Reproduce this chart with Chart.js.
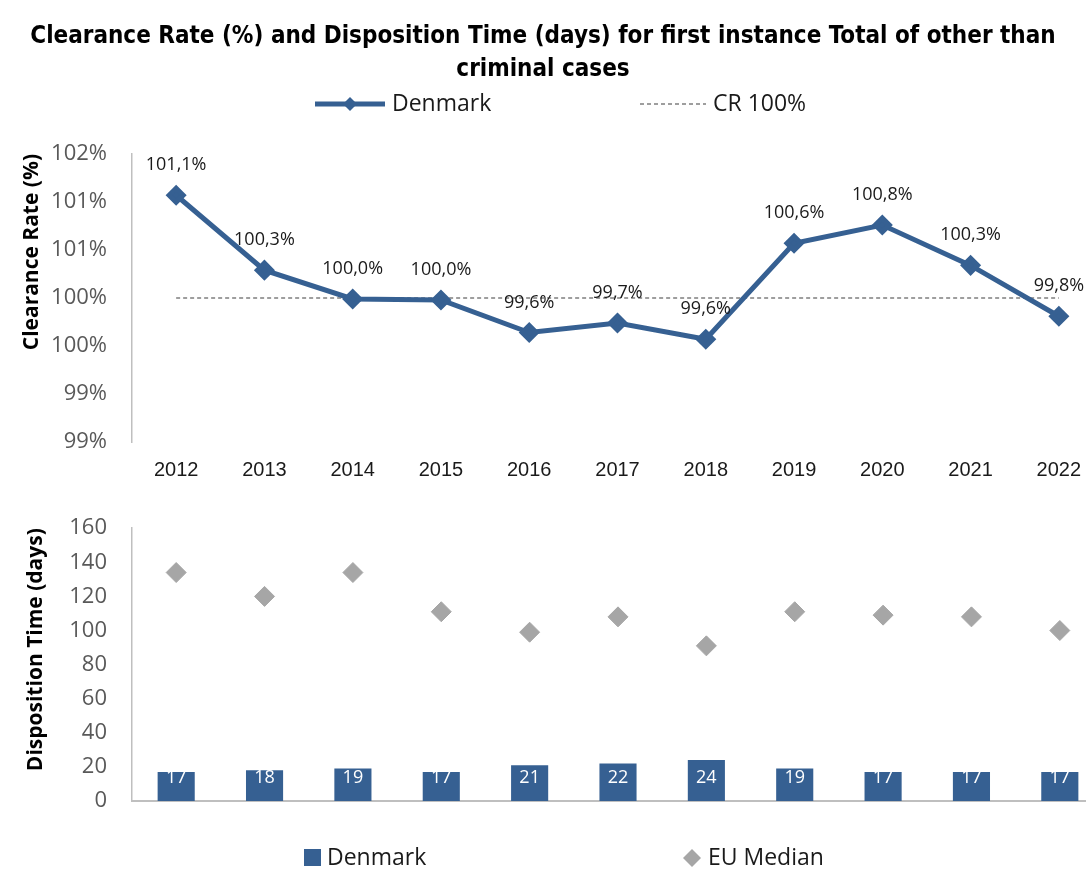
<!DOCTYPE html>
<html>
<head>
<meta charset="utf-8">
<script src="https://cdn.jsdelivr.net/npm/chart.js@4"></script>
<style>
body{margin:0;background:#fff;}
#wrap{position:relative;width:1086px;height:870px;overflow:hidden;background:#fff;}
#top{position:absolute;left:0;top:0;}
#bottom{position:absolute;left:0;top:490px;}
</style>
</head>
<body>
<div id="wrap">
  <canvas id="top" width="1115" height="506"></canvas>
  <canvas id="bottom" width="1115" height="380"></canvas>
</div>
<script>
const years = ['2012','2013','2014','2015','2016','2017','2018','2019','2020','2021','2022'];
const clearanceRate = [101.07, 100.29, 99.99, 99.98, 99.64, 99.74, 99.57, 100.57, 100.76, 100.34, 99.81];
const cr100 = [100, 100, 100, 100, 100, 100, 100, 100, 100, 100, 100];
const dtDenmark = [17, 18, 19, 17, 21, 22, 24, 19, 17, 17, 17];
const dtEuMedian = [134, 120, 134, 111, 99, 108, 91, 111, 109, 108, 100];
const titleLines = ['Clearance Rate (%) and Disposition Time (days) for first instance Total of other than', 'criminal cases'];

const blue = '#366092';
const grey = '#A6A6A6';
const axisGrey = '#BFBFBF';
const txt = "'Open Sans', 'DejaVu Sans', sans-serif";

// value labels above the line points
const lineLabels = {
  id: 'lineLabels',
  afterDatasetsDraw(chart) {
    const ctx = chart.ctx;
    const meta = chart.getDatasetMeta(0);
    ctx.save();
    ctx.font = '18px ' + txt;
    ctx.fillStyle = '#1a1a1a';
    ctx.textAlign = 'center';
    ctx.textBaseline = 'middle';
    meta.data.forEach((p, i) => {
      ctx.fillText(clearanceRate[i].toFixed(1).replace('.', ',') + '%', p.x, p.y - 30);
    });
    ctx.restore();
  }
};

// chart title + legend of the top panel
const topHeader = {
  id: 'topHeader',
  afterDraw(chart) {
    const ctx = chart.ctx;
    ctx.save();
    ctx.font = "bold 24px 'DejaVu Sans Condensed', 'Liberation Sans', sans-serif";
    ctx.fillStyle = '#000';
    ctx.textAlign = 'center';
    ctx.textBaseline = 'middle';
    ctx.fillText(titleLines[0], 543, 37);
    ctx.fillText(titleLines[1], 543, 70);

    const y = 104;
    ctx.textAlign = 'left';
    ctx.strokeStyle = blue;
    ctx.lineWidth = 5;
    ctx.beginPath(); ctx.moveTo(315, y); ctx.lineTo(385, y); ctx.stroke();
    ctx.fillStyle = blue;
    ctx.beginPath();
    ctx.moveTo(350, y - 7); ctx.lineTo(357, y); ctx.lineTo(350, y + 7); ctx.lineTo(343, y);
    ctx.closePath(); ctx.fill();
    ctx.strokeStyle = '#7f7f7f';
    ctx.lineWidth = 1.5;
    ctx.setLineDash([4, 3]);
    ctx.beginPath(); ctx.moveTo(640, y); ctx.lineTo(706, y); ctx.stroke();
    ctx.setLineDash([]);
    ctx.font = '23px ' + txt;
    ctx.fillStyle = '#1a1a1a';
    ctx.fillText('Denmark', 392, y);
    ctx.fillText('CR 100%', 713, y);
    ctx.restore();
  }
};

const barLabels = {
  id: 'barLabels',
  afterDatasetsDraw(chart) {
    const ctx = chart.ctx;
    const meta = chart.getDatasetMeta(1);
    ctx.save();
    ctx.font = '18px ' + txt;
    ctx.fillStyle = '#ffffff';
    ctx.textAlign = 'center';
    ctx.textBaseline = 'middle';
    meta.data.forEach((b, i) => {
      ctx.fillText(String(dtDenmark[i]), b.x, b.base - 23);
    });
    ctx.restore();
  }
};

const bottomLegend = {
  id: 'bottomLegend',
  afterDraw(chart) {
    const ctx = chart.ctx;
    const y = 368;
    ctx.save();
    ctx.fillStyle = blue;
    ctx.fillRect(304, y - 9, 17, 17);
    ctx.fillStyle = grey;
    ctx.beginPath();
    ctx.moveTo(692, y - 9); ctx.lineTo(701, y); ctx.lineTo(692, y + 9); ctx.lineTo(683, y);
    ctx.closePath(); ctx.fill();
    ctx.font = '23px ' + txt;
    ctx.fillStyle = '#1a1a1a';
    ctx.textBaseline = 'middle';
    ctx.fillText('Denmark', 327, y);
    ctx.fillText('EU Median', 708, y);
    ctx.restore();
  }
};

const tickFont = {family: txt, size: 22};
const axisTitleFont = {family: txt, size: 21, weight: 'bold'};

new Chart(document.getElementById('top'), {
  type: 'line',
  data: {
    labels: years,
    datasets: [
      {
        label: 'Denmark', data: clearanceRate,
        borderColor: blue, backgroundColor: blue, borderWidth: 5,
        pointStyle: 'rectRot', pointRadius: 7, pointBackgroundColor: blue, pointBorderColor: blue,
        tension: 0
      },
      {
        label: 'CR 100%', data: cr100,
        borderColor: '#7f7f7f', borderWidth: 1.5, borderDash: [4, 3], pointRadius: 0
      }
    ]
  },
  options: {
    responsive: false, animation: false, devicePixelRatio: 1,
    layout: {padding: {left: 0, right: 2, top: 154, bottom: 8}},
    plugins: {
      legend: {display: false},
      tooltip: {enabled: false},
      title: {display: false}
    },
    scales: {
      x: {
        offset: true,
        grid: {display: false, drawTicks: false},
        border: {display: false},
        ticks: {font: {family: "'Liberation Sans', Arial, sans-serif", size: 20}, color: '#1a1a1a', padding: 16}
      },
      y: {
        min: 98.5, max: 101.5,
        grid: {display: false, drawTicks: false},
        border: {display: true, color: axisGrey, width: 1.5},
        ticks: {stepSize: 0.5, font: tickFont, color: '#595959', padding: 25,
          callback: v => Math.round(v + 1e-9) + '%'},
        title: {display: true, text: 'Clearance Rate (%)', align: 'end', color: '#000', font: axisTitleFont, padding: {top: 19}},
        afterFit(s) { s.width = 132; }
      }
    }
  },
  plugins: [lineLabels, topHeader]
});

new Chart(document.getElementById('bottom'), {
  type: 'bar',
  data: {
    labels: years,
    datasets: [
      {
        type: 'line', label: 'EU Median', data: dtEuMedian, showLine: false,
        pointStyle: 'rectRot', pointRadius: 10, pointBackgroundColor: grey, pointBorderColor: grey, order: 0
      },
      {
        label: 'Denmark', data: dtDenmark, backgroundColor: blue,
        barPercentage: 0.42, categoryPercentage: 1, order: 1
      }
    ]
  },
  options: {
    responsive: false, animation: false, devicePixelRatio: 1,
    layout: {padding: {left: 0, right: 2, top: 37, bottom: 69}},
    plugins: {legend: {display: false}, tooltip: {enabled: false}},
    scales: {
      x: {
        offset: true,
        grid: {display: false, drawTicks: false},
        border: {display: true, color: axisGrey, width: 2},
        ticks: {display: false}
      },
      y: {
        min: 0, max: 160,
        grid: {display: false, drawTicks: false},
        border: {display: true, color: axisGrey, width: 1.5},
        ticks: {stepSize: 20, font: tickFont, color: '#595959', padding: 25},
        title: {display: true, text: 'Disposition Time (days)', align: 'end', color: '#000', font: axisTitleFont, padding: {top: 23}},
        afterFit(s) { s.width = 132; }
      }
    }
  },
  plugins: [barLabels, bottomLegend]
});
</script>
</body>
</html>
